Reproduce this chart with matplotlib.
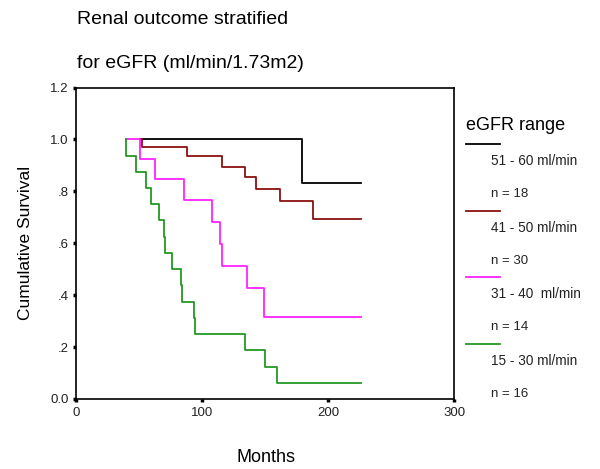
import matplotlib
matplotlib.use('Agg')
import matplotlib.pyplot as plt
from matplotlib.lines import Line2D

plt.rcParams['font.family'] = ['Liberation Sans', 'DejaVu Sans']

# Kaplan-Meier curves (months, cumulative survival)
t_51_60 = [51, 179, 226]
s_51_60 = [1.0, 0.833, 0.833]

t_41_50 = [51, 52, 88, 116, 134, 143, 162, 188, 226]
s_41_50 = [1.0, 0.970, 0.936, 0.895, 0.856, 0.811, 0.762, 0.692, 0.692]

t_31_40 = [40, 51, 63, 86, 108, 114, 115.5, 136, 149, 226]
s_31_40 = [1.0, 0.923, 0.846, 0.766, 0.683, 0.598, 0.511, 0.426, 0.317, 0.317]

t_15_30 = [40, 40, 47.7, 55.7, 59.7, 65.9, 70, 71, 76.5, 83.7, 84.5, 93.6, 94.4, 134.4, 149.6, 159.5, 226]
s_15_30 = [1.0, 0.938, 0.875, 0.812, 0.75, 0.688, 0.625, 0.562, 0.5, 0.438, 0.375, 0.312, 0.25,
           0.188, 0.125, 0.062, 0.062]

labels = ['51 - 60 ml/min', '41 - 50 ml/min', '31 - 40  ml/min', '15 - 30 ml/min']
n_text = ['n = 18', 'n = 30', 'n = 14', 'n = 16']
colors = ['#000000', '#8b1010', '#ff22ff', '#229922']

xticks = [0, 100, 200, 300]
yticks = [0.0, 0.2, 0.4, 0.6, 0.8, 1.0, 1.2]
ytick_labels = ['0.0', '.2', '.4', '.6', '.8', '1.0', '1.2']

fig = plt.figure(figsize=(6.0, 4.69), dpi=100)
ax = fig.add_axes([0.1267, 0.1493, 0.63, 0.664])

curves = [(t_51_60, s_51_60), (t_41_50, s_41_50), (t_31_40, s_31_40), (t_15_30, s_15_30)]
for (t, s), c in zip(curves, colors):
    ax.step(t, s, where='post', color=c, linewidth=1.3)

ax.set_xlim(0, 300)
ax.set_ylim(0, 1.2)
ax.set_xticks(xticks)
ax.set_yticks(yticks)
ax.set_yticklabels(ytick_labels)
ax.tick_params(length=2.5, width=2.5, direction='out', labelsize=9.5, labelcolor='#222222', pad=3)
for sp_ in ax.spines.values():
    sp_.set_linewidth(1.2)

ax.set_ylabel('Cumulative Survival', fontsize=12.5)
ax.yaxis.set_label_coords(-0.114, 0.5)
fig.text(0.443, 0.025, 'Months', fontsize=13, ha='center', va='center')

fig.text(0.128, 0.958, 'Renal outcome stratified', fontsize=14, va='center')
fig.text(0.128, 0.864, 'for eGFR (ml/min/1.73m2)', fontsize=14, va='center')

# legend drawn by hand to the right of the plot
H = 469.0
fig.text(466 / 600, 1 - 125 / H, 'eGFR range', fontsize=13, va='center')
for i, (lab, n, c) in enumerate(zip(labels, n_text, colors)):
    y0 = 144 + i * 66.5
    fig.add_artist(Line2D([466 / 600, 500 / 600], [1 - y0 / H, 1 - y0 / H], color=c, linewidth=1.3))
    fig.text(491 / 600, 1 - (y0 + 17) / H, lab, fontsize=9.8, va='center', color='#222222')
    fig.text(491 / 600, 1 - (y0 + 50) / H, n, fontsize=9.5, va='center', color='#222222')

fig.savefig('out.png', dpi=100)
